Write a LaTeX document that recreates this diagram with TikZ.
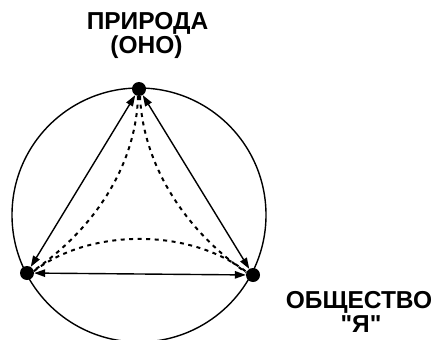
\documentclass[tikz,border=0pt]{standalone}
\usepackage{fontspec}
\setmainfont{Liberation Sans}
\usetikzlibrary{arrows.meta}
\newcommand{\lblfont}{\fontsize{24.5}{24}\selectfont\bfseries}
\begin{document}
\begin{tikzpicture}[x=1pt,y=-1pt]
\tikzset{
  dot/.style={circle,fill=black,inner sep=0pt,minimum size=14pt},
  solidarrow/.style={line width=1.4pt,{Triangle[length=11pt,width=7.5pt]}-{Triangle[length=11pt,width=7.5pt]}},
  dashline/.style={line width=2pt,dash pattern=on 4pt off 4.5pt},
  textlabel/.style={inner sep=0pt}}
\useasboundingbox (0,0) rectangle (435,339);
\draw[line width=1.4pt] (139,215) circle[radius=127];
\node[dot] (top) at (139,89) {};
\node[dot] (left) at (27,273) {};
\node[dot] (right) at (253,275) {};
\draw[solidarrow] (top) -- (left);
\draw[solidarrow] (top) -- (right);
\draw[solidarrow] (left) -- (right);
\draw[dashline] (top.-98) .. controls (136,165) and (95,228) .. (left.20);
\draw[dashline] (top.-82) .. controls (143,165) and (185,230) .. (right.160);
\draw[dashline] (left.15) .. controls (90,228) and (190,228) .. (right.155);
\node[textlabel] (nature1) at (147.5,23.5) {\lblfont ПРИРОДА};
\node[textlabel] (nature2) at (146.5,47.5) {\lblfont (ОНО)};
\node[textlabel] (society1) at (359,302) {\lblfont ОБЩЕСТВО};
\node[textlabel] (society2) at (361,324.5) {\lblfont \textquotedbl Я\textquotedbl};
\end{tikzpicture}
\end{document}
